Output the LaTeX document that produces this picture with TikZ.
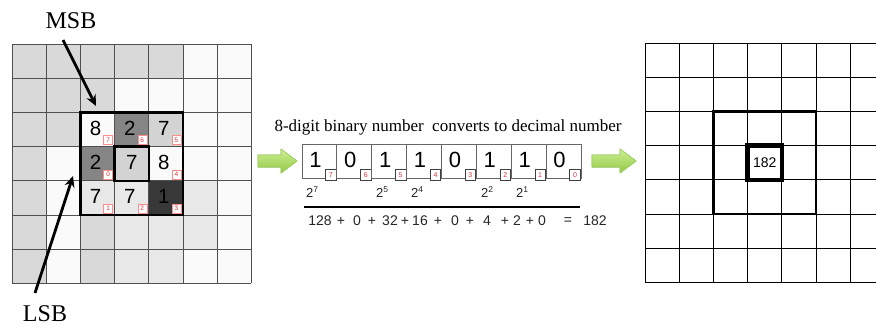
\documentclass[tikz,border=0pt]{standalone}
\usepackage{fontspec}
\setmainfont{Liberation Serif}
\newfontfamily\arialf{Liberation Sans}
\usetikzlibrary{arrows.meta}
\definecolor{gA}{HTML}{D9D9D9}
\definecolor{gW}{HTML}{FAFAFA}
\definecolor{gL}{HTML}{E8E8E8}
\definecolor{gM}{HTML}{D3D3D3}
\definecolor{gD}{HTML}{858585}
\definecolor{gK}{HTML}{383838}
\definecolor{gridc}{HTML}{505050}
\definecolor{redn}{HTML}{E0303A}
\definecolor{arrowtop}{HTML}{CDEE92}
\definecolor{arrowbot}{HTML}{92C947}
\definecolor{arrowedge}{HTML}{9FCF62}
\begin{document}
\begin{tikzpicture}[x=1pt,y=-1pt,
  gridline/.style={draw=gridc,line width=0.9pt},
  rgridline/.style={draw=black,line width=0.9pt},
  thickbox/.style={draw=black,line width=2.4pt},
  dig/.style={font=\arialf\fontsize{20.5}{20.5}\selectfont,inner sep=0pt},
  bdig/.style={font=\arialf\fontsize{22}{22}\selectfont,inner sep=0pt},
  rbox/.style={draw=red!45,fill=white,minimum size=9pt,inner sep=0pt,line width=0.5pt,
               font=\arialf\fontsize{6.5}{6.5}\selectfont,text=redn},
  bbox/.style={draw=black!75,fill=white,minimum size=10.5pt,inner sep=0pt,line width=0.7pt,
               font=\arialf\fontsize{7}{7}\selectfont,text=redn},
  bcell/.style={draw=black!60,line width=0.8pt,minimum width=34.875pt,minimum height=34pt,inner sep=0pt},
  pw/.style={font=\arialf\fontsize{13}{13}\selectfont,text=black!85,inner sep=0pt},
  sm/.style={font=\arialf\fontsize{14}{14}\selectfont,text=black!85,inner sep=0pt},
  lbl/.style={font=\fontsize{24}{24}\selectfont,inner sep=0pt},
  garrow/.style={top color=arrowtop,bottom color=arrowbot,draw=arrowedge,line width=0.6pt,line join=round},
  bigarrow/.style={-{Stealth[length=11pt,width=10pt]},line width=2.8pt}
]
\useasboundingbox (0,0) rectangle (876,327);
\fill[white] (0,0) rectangle (876,327);

% ---------- left grid ----------
\def\s{34.2}
\foreach \r/\c/\col in {
 0/0/gA,0/1/gA,0/2/gA,0/3/gA,0/4/gA,0/5/gW,0/6/gW,
 1/0/gA,1/1/gA,1/2/gA,1/3/gW,1/4/gW,1/5/gW,1/6/gW,
 2/0/gA,2/1/gA,2/2/gW,2/3/gD,2/4/gM,2/5/gW,2/6/gW,
 3/0/gA,3/1/gW,3/2/gD,3/3/gM,3/4/gW,3/5/gW,3/6/gW,
 4/0/gA,4/1/gW,4/2/gL,4/3/gL,4/4/gK,4/5/gL,4/6/gW,
 5/0/gA,5/1/gW,5/2/gA,5/3/gL,5/4/gL,5/5/gL,5/6/gW,
 6/0/gA,6/1/gW,6/2/gA,6/3/gL,6/4/gL,6/5/gW,6/6/gW}
 \fill[\col] (12+\c*\s,44+\r*\s) rectangle ++(\s,\s);
\foreach \i in {0,...,7} {
  \draw[gridline] (12+\i*\s,44) -- (12+\i*\s,44+7*\s);
  \draw[gridline] (12,44+\i*\s) -- (12+7*\s,44+\i*\s);
}
\draw[thickbox] (12+2*\s,44+2*\s) rectangle (12+5*\s,44+5*\s);
\draw[thickbox] (12+3*\s,44+3*\s) rectangle (12+4*\s,44+4*\s);

% neighbour values and bit positions
\foreach \r/\c/\v/\b/\nm in {2/2/8/7/na,2/3/2/6/nb,2/4/7/5/nc,3/4/8/4/nd,4/4/1/3/ne,4/3/7/2/nf,4/2/7/1/ng,3/2/2/0/nh} {
  \node[dig] (v\nm) at (12+\c*\s+\s/2-2,44+\r*\s+\s/2-1) {\v};
  \node[rbox] (b\nm) at (12+\c*\s+\s-6.5,44+\r*\s+\s-6.5) {\b};
}
\node[dig] (vcenter) at (12+3*\s+\s/2,44+3*\s+\s/2-1) {7};

% MSB / LSB
\node[lbl] (msb) at (71,21) {MSB};
\node[lbl] (lsb) at (45,314) {LSB};
\coordinate (msbtail) at (63,40);
\coordinate (msbtip) at (96,106);
\coordinate (lsbtail) at (35,293);
\coordinate (lsbtip) at (73,176);
\draw[bigarrow] (msbtail) -- (msbtip);
\draw[bigarrow] (lsbtail) -- (lsbtip);

% ---------- middle ----------
\node[font=\fontsize{17}{17}\selectfont,inner sep=0pt] (title) at (448,127)
  {8-digit binary number\ \ converts to decimal number};

\def\w{34.875}
\foreach \i/\v/\b in {0/1/7,1/0/6,2/1/5,3/1/4,4/0/3,5/1/2,6/1/1,7/0/0} {
  \node[bcell] (c\i) at (302+\i*\w+\w/2,161) {};
  \node[bdig] (d\i) at (302+\i*\w+\w/2-4,160) {\v};
  \node[bbox] (e\i) at (302+\i*\w+\w-6,175) {\b};
}

\node[pw] (p7) at (312,192) {2\raisebox{0.45em}{\fontsize{8.5}{8.5}\selectfont 7}};
\node[pw] (p5) at (382,192) {2\raisebox{0.45em}{\fontsize{8.5}{8.5}\selectfont 5}};
\node[pw] (p4) at (417,192) {2\raisebox{0.45em}{\fontsize{8.5}{8.5}\selectfont 4}};
\node[pw] (p2) at (487,192) {2\raisebox{0.45em}{\fontsize{8.5}{8.5}\selectfont 2}};
\node[pw] (p1) at (522,192) {2\raisebox{0.45em}{\fontsize{8.5}{8.5}\selectfont 1}};

\coordinate (lineL) at (304,207);
\coordinate (lineR) at (580,207);
\draw[line width=2.2pt] (lineL) -- (lineR);

\foreach \x/\t/\nm in {320/128/s1,341/+/s2,357/0/s3,372/+/s4,390/32/s5,405/+/s6,420/16/s7,438/+/s8,
  455/0/s9,470/+/s10,487/4/s11,505/+/s12,517/2/s13,530/+/s14,542/0/s15,568/=/s16,595/182/s17}
  \node[sm] (\nm) at (\x,221) {\t};

% green arrows
\fill[garrow] (258,155) -- (281,155) -- (281,149) -- (297,161) -- (281,173) -- (281,167) -- (258,167) -- cycle;
\fill[garrow] (592,155) -- (620,155) -- (620,149) -- (636,161) -- (620,173) -- (620,167) -- (592,167) -- cycle;
\draw[garrow] (258,155) -- (281,155) -- (281,149) -- (297,161) -- (281,173) -- (281,167) -- (258,167) -- cycle;
\draw[garrow] (592,155) -- (620,155) -- (620,149) -- (636,161) -- (620,173) -- (620,167) -- (592,167) -- cycle;

% ---------- right grid ----------
\begin{scope}
\clip (640,30) rectangle (876,300);
\foreach \i in {0,...,7} {
  \draw[rgridline] (645+\i*\s,43) -- (645+\i*\s,43+7*\s);
  \draw[rgridline] (645,43+\i*\s) -- (645+7*\s,43+\i*\s);
}
\end{scope}
\draw[thickbox] (645+2*\s,43+2*\s) rectangle (645+5*\s,43+5*\s);
\draw[draw=black,line width=4.5pt] (645+3*\s,43+3*\s) rectangle (645+4*\s,43+4*\s);
\node[font=\arialf\fontsize{14}{14}\selectfont,inner sep=0pt] (res) at (645+3.5*\s,43+3.5*\s) {182};
\end{tikzpicture}
\end{document}
